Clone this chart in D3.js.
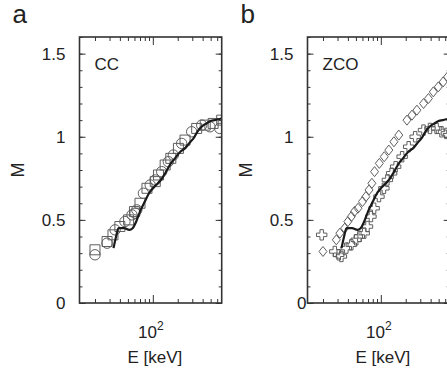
<!DOCTYPE html>
<html>
<head>
<meta charset="utf-8">
<script src="https://cdn.jsdelivr.net/npm/d3@7"></script>
<style>
  body { margin: 0; background: #fff; }
  svg { display: block; font-family: "Liberation Sans", Arial, sans-serif; }
  text { fill: #222; }
</style>
</head>
<body>
<svg id="chart" width="447" height="377"></svg>
<script>
// --- data ---
const xDomain = [13, 680];
const yDomain = [0, 1.6];
const yTickLabels = [0, 0.5, 1, 1.5];

// shared model curve (solid line, both panels)
const lineE = [33.5, 36, 38.5, 45, 52, 57, 63, 70, 80, 90, 100, 115, 125, 145, 165, 185, 215, 245, 285, 310, 345, 370, 410, 445, 500, 560, 620, 672];
const lineM = [0.33, 0.40, 0.45, 0.45, 0.44, 0.45, 0.49, 0.55, 0.61, 0.66, 0.69, 0.72, 0.74, 0.79, 0.84, 0.87, 0.91, 0.93, 0.97, 0.99, 1.03, 1.05, 1.07, 1.08, 1.095, 1.10, 1.105, 1.11];

// panel a, CC
const ccCircleE = [20, 28, 35, 46, 56, 61, 64, 77, 93, 107, 128, 154, 177, 223, 295, 390, 490, 645];
const ccCircleM = [0.29, 0.36, 0.44, 0.49, 0.53, 0.54, 0.56, 0.66, 0.71, 0.74, 0.79, 0.85, 0.89, 0.96, 1.03, 1.07, 1.06, 1.05];
const ccSquareE = [20, 28, 33, 40, 51, 60, 70, 85, 107, 117, 141, 165, 204, 245, 339, 430, 536, 680];
const ccSquareM = [0.32, 0.37, 0.41, 0.46, 0.50, 0.55, 0.60, 0.69, 0.73, 0.77, 0.83, 0.87, 0.93, 0.98, 1.05, 1.07, 1.08, 1.10];

// panel b, ZCO
const zcoDiamondE = [20, 29, 32, 36.6, 40, 44, 48, 53, 60, 66, 72, 78, 84, 96, 110, 125, 144, 165, 207, 238, 273, 328, 376, 431, 495, 567, 640];
const zcoDiamondM = [0.31, 0.38, 0.42, 0.45, 0.49, 0.52, 0.55, 0.57, 0.61, 0.64, 0.68, 0.72, 0.79, 0.84, 0.88, 0.92, 0.97, 1.01, 1.10, 1.13, 1.16, 1.20, 1.23, 1.27, 1.30, 1.33, 1.36];
const zcoCrossE = [19.3, 27.8, 31, 33.4, 38.3, 44, 50.4, 55, 63, 69, 76, 83, 95, 109, 120, 135, 151, 181, 217, 260, 328, 393, 472, 541, 620];
const zcoCrossM = [0.41, 0.31, 0.29, 0.28, 0.33, 0.35, 0.38, 0.40, 0.42, 0.46, 0.52, 0.57, 0.64, 0.69, 0.74, 0.78, 0.82, 0.88, 0.94, 1.00, 1.04, 1.05, 1.05, 1.03, 1.02];

const zip = (xs, ys) => xs.map((x, i) => ({e: x, m: ys[i]}));

// custom diamond, a bit wider than d3's
const wideDiamond = {
  draw(ctx, size) {
    const h = Math.sqrt(size) / 2, w = h * 0.8;
    ctx.moveTo(0, -h); ctx.lineTo(w, 0); ctx.lineTo(0, h); ctx.lineTo(-w, 0); ctx.closePath();
  }
};

const panels = [
  { letter: 'a', name: 'CC', left: 79.5, zeroDx: 0,
    series: [
      { data: zip(ccCircleE, ccCircleM), type: d3.symbolCircle, size: 85 },
      { data: zip(ccSquareE, ccSquareM), type: d3.symbolSquare, size: 100 }
    ] },
  { letter: 'b', name: 'ZCO', left: 307.5, zeroDx: 13,
    series: [
      { data: zip(zcoDiamondE, zcoDiamondM), type: wideDiamond, size: 100 },
      { data: zip(zcoCrossE, zcoCrossM), type: d3.symbolCross, size: 60 }
    ] }
];

const svg = d3.select('#chart');
const W = 142.2, plotTop = 37, plotBottom = 303;
const ink = '#333', markColor = '#5e5e5e';

panels.forEach(p => {
  const x = d3.scaleLog().domain(xDomain).range([p.left, p.left + W]);
  const y = d3.scaleLinear().domain(yDomain).range([plotBottom, plotTop]);
  const g = svg.append('g');

  // panel letter
  g.append('text').attr('x', p.left - 67).attr('y', 23)
    .attr('font-size', 26).text(p.letter);

  // clip for marks
  const clipId = 'clip-' + p.letter;
  g.append('clipPath').attr('id', clipId).append('rect')
    .attr('x', p.left).attr('y', plotTop).attr('width', W).attr('height', plotBottom - plotTop);
  const plot = g.append('g').attr('clip-path', `url(#${clipId})`);

  p.series.forEach(s => {
    plot.selectAll(null).data(s.data).enter().append('path')
      .attr('transform', d => `translate(${x(d.e)},${y(d.m)})`)
      .attr('d', d3.symbol().type(s.type).size(s.size))
      .attr('fill', 'none').attr('stroke', markColor).attr('stroke-width', 1);
  });

  const line = d3.line().x(d => x(d.e)).y(d => y(d.m)).curve(d3.curveMonotoneX);
  plot.append('path').datum(zip(lineE, lineM))
    .attr('d', line).attr('fill', 'none').attr('stroke', '#1a1a1a')
    .attr('stroke-width', 2.2).attr('stroke-linejoin', 'round');

  // axes: ticks inward on all sides
  const minorY = d3.range(0, 1.61, 0.1);
  const xTicks = [20, 30, 40, 50, 60, 70, 80, 90, 100, 200, 300, 400, 500, 600];

  g.append('g').attr('transform', `translate(${p.left},0)`)
    .call(d3.axisRight(y).tickValues(minorY).tickSize(3).tickFormat(''))
    .call(a => a.select('.domain').remove());
  g.append('g').attr('transform', `translate(${p.left},0)`)
    .call(d3.axisRight(y).tickValues(yTickLabels).tickSize(6).tickFormat(''))
    .call(a => a.select('.domain').remove());
  g.append('g').attr('transform', `translate(${p.left + W},0)`)
    .call(d3.axisLeft(y).tickValues(minorY).tickSize(3).tickFormat(''))
    .call(a => a.select('.domain').remove());
  g.append('g').attr('transform', `translate(${p.left + W},0)`)
    .call(d3.axisLeft(y).tickValues(yTickLabels).tickSize(6).tickFormat(''))
    .call(a => a.select('.domain').remove());
  [[plotBottom, d3.axisTop], [plotTop, d3.axisBottom]].forEach(([pos, ax]) => {
    g.append('g').attr('transform', `translate(0,${pos})`)
      .call(ax(x).tickValues(xTicks).tickSizeOuter(0)
        .tickSize(4).tickFormat(''))
      .call(a => a.select('.domain').remove())
      .call(a => a.selectAll('.tick').filter(d => d === 100).select('line')
        .attr('y2', ax === d3.axisTop ? -8 : 8));
  });
  g.selectAll('.tick line').attr('stroke', ink).attr('stroke-width', 1);

  // frame
  g.append('rect').attr('x', p.left).attr('y', plotTop).attr('width', W).attr('height', plotBottom - plotTop)
    .attr('fill', 'none').attr('stroke', ink).attr('stroke-width', 1.6);

  // y tick labels
  g.selectAll(null).data(yTickLabels).enter().append('text')
    .attr('x', d => p.left - 14 + (d === 0 ? p.zeroDx : 0))
    .attr('y', d => y(d)).attr('dy', '0.36em')
    .attr('text-anchor', 'end').attr('font-size', 17)
    .text(d => d);

  // x tick label 10^2
  const t = g.append('text').attr('x', x(100) - 2).attr('y', 338)
    .attr('text-anchor', 'middle').attr('font-size', 17);
  t.append('tspan').text('10');
  t.append('tspan').attr('dy', -8).attr('font-size', 12).text('2');

  // axis titles
  g.append('text').attr('x', x(100) + 2).attr('y', 363)
    .attr('text-anchor', 'middle').attr('font-size', 17).text('E [keV]');
  g.append('text')
    .attr('transform', `translate(${p.left - 56},${(plotTop + plotBottom) / 2}) rotate(-90)`)
    .attr('text-anchor', 'middle').attr('font-size', 18).text('M');

  // panel name
  g.append('text').attr('x', p.left + 15).attr('y', 70)
    .attr('font-size', 17).text(p.name);
});
</script>
</body>
</html>
